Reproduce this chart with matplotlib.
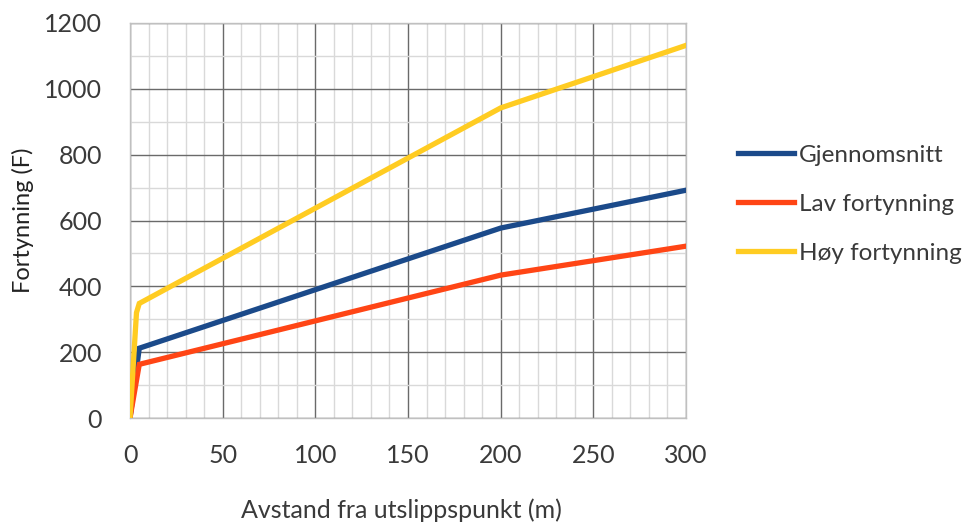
import matplotlib
matplotlib.use("Agg")
import matplotlib.pyplot as plt
from matplotlib.ticker import MultipleLocator

plt.rcParams['font.family'] = ['Lato', 'DejaVu Sans']

series_names = ["Gjennomsnitt", "Lav fortynning", "Høy fortynning"]
x_avg = [0, 5, 200, 300]
y_avg = [0, 212, 577, 692]
x_low = [0, 5, 200, 300]
y_low = [0, 163, 434, 522]
x_high = [0, 3.5, 5, 200, 300]
y_high = [0, 320, 348, 942, 1132]
colors = ["#1B4A8A", "#FF4515", "#FFCC22"]

x_ticks = [0, 50, 100, 150, 200, 250, 300]
y_ticks = [0, 200, 400, 600, 800, 1000, 1200]

text_color = '#3a3a3a'

fig = plt.figure(figsize=(9.66, 5.23), dpi=100)
ax = fig.add_axes([130/966, 1-418/523, 556/966, 395/523])

for xs, ys, c, n in zip([x_avg, x_low, x_high], [y_avg, y_low, y_high], colors, series_names):
    ax.plot(xs, ys, color=c, lw=3.8, label=n, solid_joinstyle='miter', zorder=3)

ax.set_xlim(0, 300)
ax.set_ylim(0, 1200)
ax.set_xticks(x_ticks)
ax.set_yticks(y_ticks)
ax.xaxis.set_minor_locator(MultipleLocator(10))
ax.yaxis.set_minor_locator(MultipleLocator(100))
ax.grid(which='minor', color='#d9d9d9', lw=1.0, zorder=0)
ax.grid(which='major', color='#6a6a6a', lw=1.0, zorder=1)
ax.tick_params(which='both', length=0)
ax.tick_params(axis='x', pad=19, labelsize=18, colors=text_color)
ax.tick_params(axis='y', pad=20, labelsize=18, colors=text_color)
for s in ax.spines.values():
    s.set_color('#c0c0c0')
    s.set_linewidth(1.0)

ax.set_xlabel("Avstand fra utslippspunkt (m)", fontsize=18, color=text_color, va='center')
ax.xaxis.set_label_coords((401-130)/556, (418-510)/395)
ax.set_ylabel("Fortynning (F)", fontsize=17, color='#222222', va='center')
ax.yaxis.set_label_coords((23-130)/556, 0.5)

h, l = ax.get_legend_handles_labels()
fig.legend(h, l, loc='upper left', bbox_to_anchor=(716/966, 1-123/523), frameon=False,
           fontsize=17.5, handlelength=2.3, handletextpad=0.2, labelspacing=1.15,
           labelcolor=text_color)

fig.savefig("out.png", dpi=100)
